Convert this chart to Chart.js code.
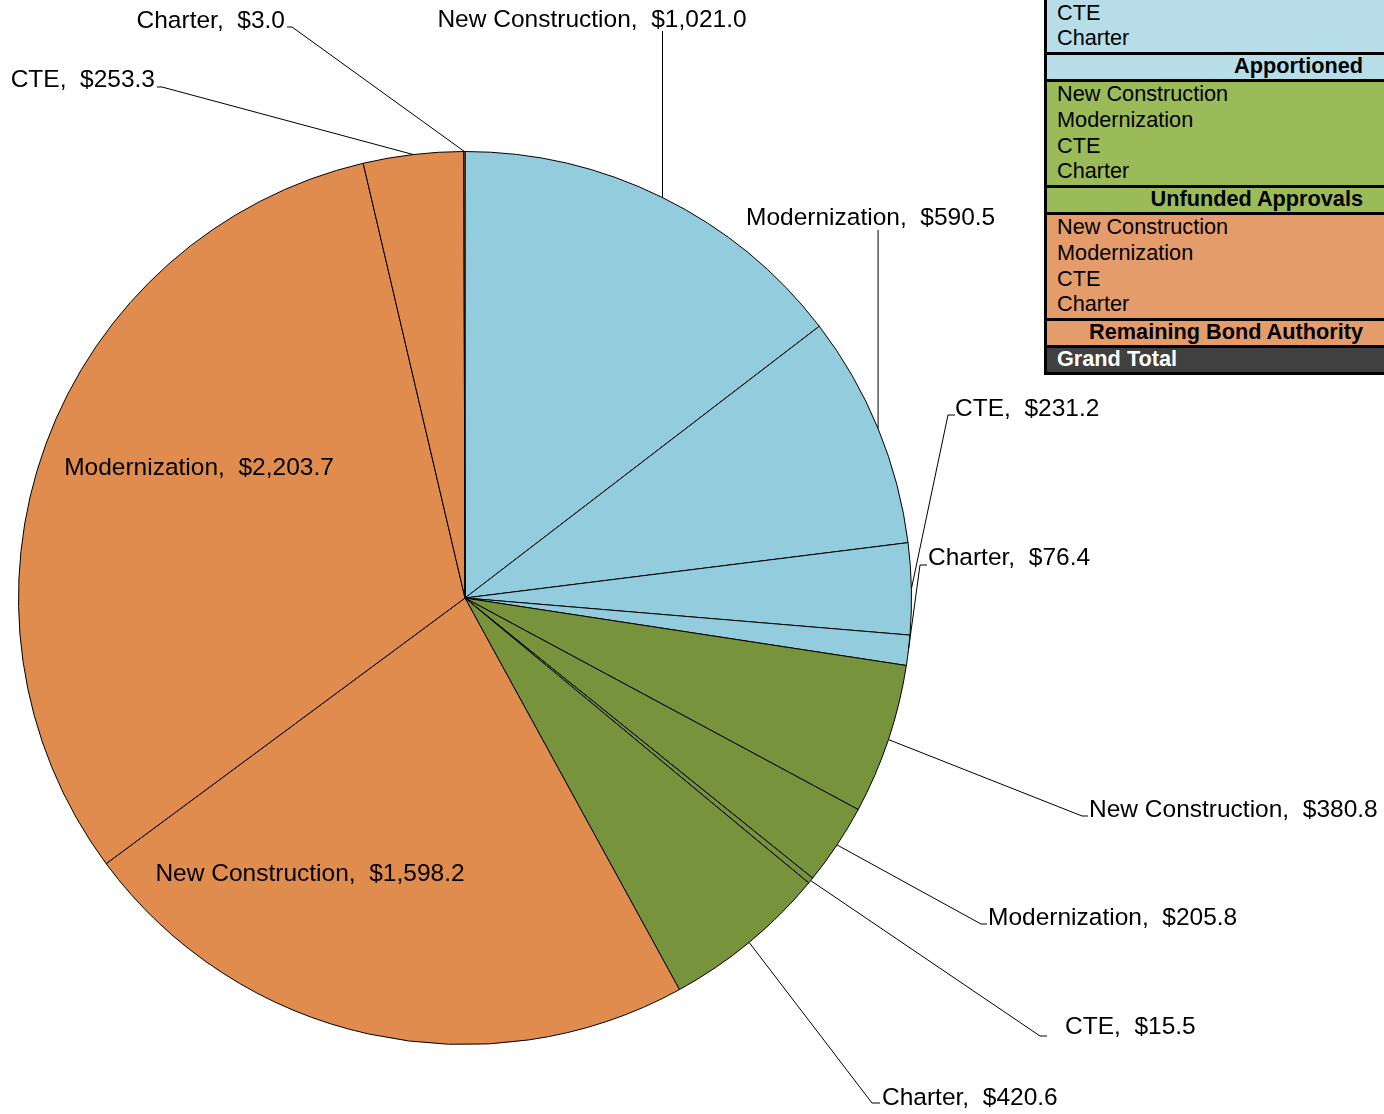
<!DOCTYPE html>
<html lang="en">
<head>
  <meta charset="UTF-8" />
  <title>Bond Authority</title>
  <style>
    * { box-sizing: border-box; margin: 0; padding: 0; }
    body { background: #fff; font-family: "Liberation Sans", Arial, sans-serif; overflow: hidden; }
    .wrap { position: relative; width: 1384px; height: 1114px; }
    .legend {
      position: absolute;
      left: 1044px;
      top: -54px;
      width: 360px;
      border: 3px solid #000;
      border-right: none;
      font-size: 21.7px;
      color: #000;
    }
    .legend .body { border-bottom: 3px solid #000; padding: 0 0 0 10px; }
    .legend .body div { height: 25.75px; line-height: 24px; white-space: nowrap; }
    .legend .head {
      height: 27px; line-height: 21px; font-weight: bold; text-align: right;
      padding-right: 41px; border-bottom: 3px solid #000; white-space: nowrap;
    }
    .legend .total {
      height: 24px; line-height: 21px; font-weight: bold; color: #fff;
      background: #404040; padding-left: 10px;
    }
  </style>
</head>
<body>
  <div class="wrap">
    <canvas id="pieChart"></canvas>
    <div class="legend" id="legend"></div>
  </div>

  <script src="https://cdn.jsdelivr.net/npm/chart.js"></script>
  <script>
    const categories = ['New Construction', 'Modernization', 'CTE', 'Charter'];
    const groups = ['Apportioned', 'Unfunded Approvals', 'Remaining Bond Authority'];
    const apportioned = [1021.0, 590.5, 231.2, 76.4];
    const unfunded = [380.8, 205.8, 15.5, 420.6];
    const remaining = [1598.2, 2203.7, 253.3, 3.0];

    const sliceColors = ['#93cddd', '#77933c', '#df8c4e'];
    const legendColors = ['#b7dee8', '#9bbb59', '#e59c6b'];

    const labels = [];
    const values = [];
    const colors = [];
    [apportioned, unfunded, remaining].forEach(function (arr, g) {
      arr.forEach(function (v, i) {
        labels.push(categories[i]);
        values.push(v);
        colors.push(sliceColors[g]);
      });
    });

    // where each data label sits (leader end, tick length, text anchor)
    const labelLayout = [
      { end: [null, 31], tick: 0, text: [592, 20], align: 'center' },
      { end: [null, 230], tick: 0, text: [746, 218], align: 'left' },
      { end: [948, 415], tick: 7, text: [955, 409], align: 'left' },
      { end: [920, 565], tick: 7, text: [928, 558], align: 'left' },
      { end: [1082, 816], tick: 6, text: [1089, 810], align: 'left' },
      { end: [981, 924], tick: 6, text: [988, 918], align: 'left' },
      { end: [1040, 1036], tick: 7, text: [1065, 1027], align: 'left' },
      { end: [872, 1103], tick: 8, text: [882, 1098], align: 'left' },
      { inside: true, text: [310, 874], align: 'center' },
      { inside: true, text: [199, 468], align: 'center' },
      { end: [162, 87], tick: -5, text: [155, 80], align: 'right' },
      { end: [292, 27], tick: -5, text: [285, 21], align: 'right' }
    ];

    function money(v) {
      return '$' + v.toLocaleString('en-US', { minimumFractionDigits: 1, maximumFractionDigits: 1 });
    }

    const pieLabels = {
      id: 'pieLabels',
      afterDatasetsDraw(chart) {
        const ctx = chart.ctx;
        const arcs = chart.getDatasetMeta(0).data;
        ctx.save();
        ctx.font = '24.5px "Liberation Sans", Arial, sans-serif';
        ctx.fillStyle = '#000';
        ctx.strokeStyle = '#000';
        ctx.lineWidth = 1;
        ctx.textBaseline = 'middle';
        arcs.forEach(function (arc, i) {
          const lay = labelLayout[i];
          const mid = (arc.startAngle + arc.endAngle) / 2;
          const px = arc.x + arc.outerRadius * Math.cos(mid);
          const py = arc.y + arc.outerRadius * Math.sin(mid);
          if (!lay.inside) {
            const ex = lay.end[0] === null ? px : lay.end[0];
            const ey = lay.end[1];
            ctx.beginPath();
            ctx.moveTo(px, py);
            ctx.lineTo(ex, ey);
            if (lay.tick) ctx.lineTo(ex + lay.tick, ey);
            ctx.stroke();
          }
          ctx.textAlign = lay.align;
          ctx.fillText(labels[i] + ',  ' + money(values[i]), lay.text[0], lay.text[1]);
        });
        ctx.restore();
      }
    };

    new Chart(document.getElementById('pieChart'), {
      type: 'pie',
      data: {
        labels: labels,
        datasets: [{
          data: values,
          backgroundColor: colors,
          borderColor: '#000',
          borderWidth: 1
        }]
      },
      options: {
        responsive: true,
        maintainAspectRatio: false,
        animation: false,
        layout: { padding: { left: 18, right: 472, top: 151, bottom: 69 } },
        plugins: {
          legend: { display: false },
          tooltip: { enabled: false }
        }
      },
      plugins: [pieLabels]
    });

    // table legend at top right
    const legend = document.getElementById('legend');
    let html = '';
    groups.forEach(function (g, gi) {
      html += '<div class="body" style="background:' + legendColors[gi] + '">';
      categories.forEach(function (c) { html += '<div>' + c + '</div>'; });
      html += '</div>';
      html += '<div class="head" style="background:' + legendColors[gi] + '">' + g + '</div>';
    });
    html += '<div class="total">Grand Total</div>';
    legend.innerHTML = html;
  </script>
</body>
</html>
